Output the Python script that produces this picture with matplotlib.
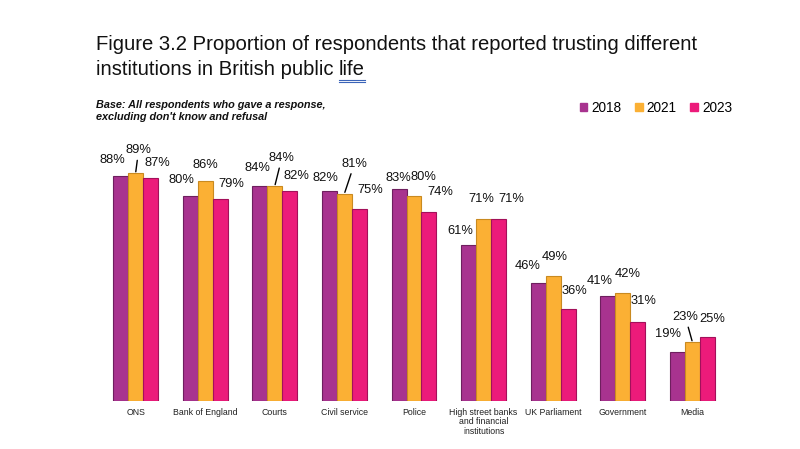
"""
Figure 3.2 - trust in institutions in British public life
"""

import numpy as np
import matplotlib.pyplot as plt
from matplotlib.lines import Line2D
from matplotlib.patches import Rectangle

plt.rcParams['font.family'] = ['Liberation Sans', 'DejaVu Sans']

# Data
institutions = ['ONS', 'Bank of England', 'Courts', 'Civil service', 'Police',
                'High street banks\nand financial\ninstitutions', 'UK Parliament',
                'Government', 'Media']
years = ['2018', '2021', '2023']
trust_2018 = [88, 80, 84, 82, 83, 61, 46, 41, 19]
trust_2021 = [89, 86, 84, 81, 80, 71, 49, 42, 23]
trust_2023 = [87, 79, 82, 75, 74, 71, 36, 31, 25]

# Label offsets (pixels, from bar top-centre) and which labels use a leader line
label_offsets = [
    [(-8, 10), (-9, 10), (-2, 12), (-4, 7), (-1, 5), (-8, 8), (-11, 11), (-8, 9), (-9, 12)],
    [(3, 17), (0, 10), (7, 22), (10, 24), (9, 13), (-2, 14), (1, 13), (5, 13), (-7, 19)],
    [(7, 9), (11, 9), (7, 9), (11, 13), (11, 14), (13, 14), (6, 12), (6, 15), (5, 12)],
]
leaders = {(1, 0), (1, 2), (1, 3), (1, 8)}

colors = ['#A8338F', '#FBB034', '#EC1B7A']
edges = ['#6E1F5E', '#C98A20', '#A3105A']

fig = plt.figure(figsize=(8, 4.49), dpi=100, facecolor='white')
ax = fig.add_axes([0.126, 0.107, 0.783, 0.570])

x = np.arange(len(institutions))
width = 0.215
series = [trust_2018, trust_2021, trust_2023]

for i, vals in enumerate(series):
    pos = x + (i - 1) * width
    ax.bar(pos, vals, width, color=colors[i], edgecolor=edges[i], linewidth=0.8)
    for j, v in enumerate(vals):
        dx, dy = label_offsets[i][j]
        arrow = None
        if (i, j) in leaders:
            arrow = dict(arrowstyle='-', color='black', lw=1.0, shrinkA=1, shrinkB=1)
        ax.annotate(f'{v}%', xy=(pos[j], v), xytext=(dx, dy),
                    textcoords='offset pixels', ha='center', va='bottom',
                    fontsize=9.3, color='#111111', arrowprops=arrow)

ax.set_xlim(-0.5, len(institutions) - 0.5)
ax.set_ylim(0, 100)
ax.set_xticks(x)
ax.set_xticklabels(institutions, fontsize=6.3, color='#222222', linespacing=1.05,
                   family=['Liberation Sans Narrow', 'Liberation Sans'])
ax.tick_params(axis='x', length=0, pad=5)
ax.set_yticks([])
for s in ax.spines.values():
    s.set_visible(False)

# Title, with the underlined last word
fig.text(0.12, 0.900, 'Figure 3.2 Proportion of respondents that reported trusting different',
         fontsize=14.6, color='#111111', va='center')
t2 = fig.text(0.12, 0.846, 'institutions in British public ', fontsize=14.6,
              color='#111111', va='center')
fig.canvas.draw()
bb = t2.get_window_extent()
t3 = fig.text(bb.x1 / 800, 0.846, 'life', fontsize=14.6, color='#111111', va='center')
fig.canvas.draw()
bb3 = t3.get_window_extent()
for off in (1, 3):
    fig.add_artist(Line2D([bb3.x0 / 800, bb3.x1 / 800],
                          [(bb3.y0 - off) / 449, (bb3.y0 - off) / 449],
                          color='#3B64B8', lw=0.8))

# Base note
fig.text(0.12, 0.752, "Base: All respondents who gave a response,\nexcluding don't know and refusal",
         fontsize=7.8, fontweight='bold', fontstyle='italic', color='#111111',
         va='center', linespacing=1.25)

# Legend
handles = [Rectangle((0, 0), 1, 1, color=c) for c in colors]
fig.legend(handles, years, loc='center', bbox_to_anchor=(0.82, 0.76), ncol=3,
           frameon=False, fontsize=9.8, handlelength=0.55, handleheight=0.55,
           handletextpad=0.3, columnspacing=1.0)

plt.savefig('out.png', dpi=100, facecolor='white')
